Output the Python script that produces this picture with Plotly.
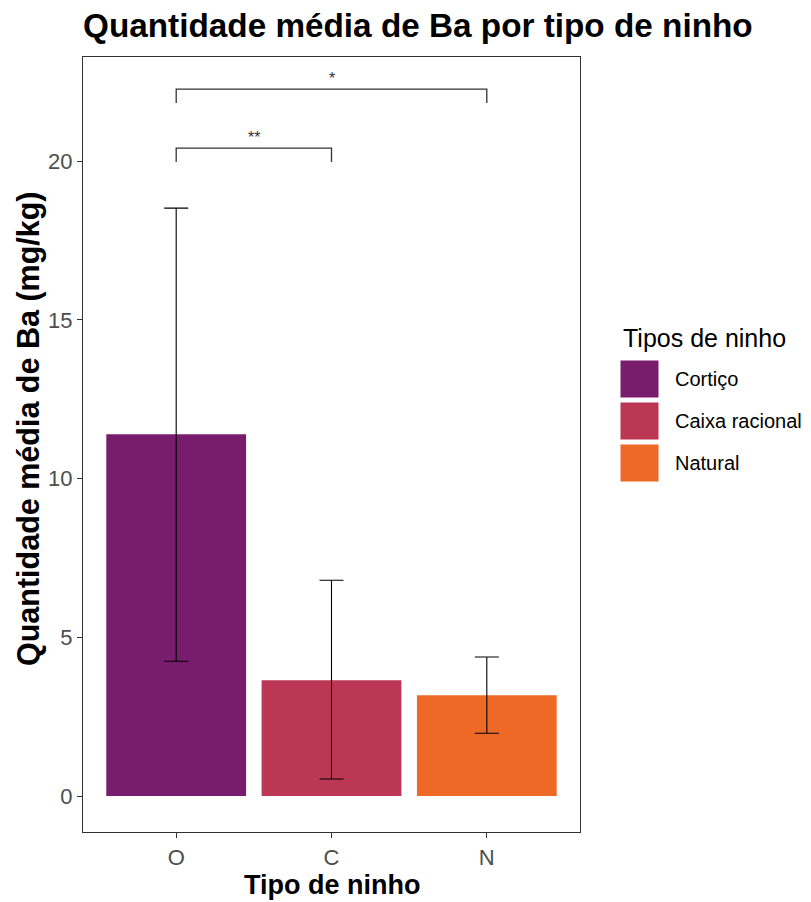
import plotly.graph_objects as go

categories = ["O", "C", "N"]
legend_names = ["Cortiço", "Caixa racional", "Natural"]
means = [11.40, 3.65, 3.18]
err_upper = [18.52, 6.80, 4.38]
err_lower = [4.25, 0.54, 1.98]
colors = ["#781C6D", "#BB3754", "#ED6925"]

# significance brackets: (x1 index, x2 index, y level, label)
brackets = [(0, 1, 20.41, "**"), (0, 2, 22.27, "*")]
bracket_drop = 0.44

W, H = 811, 902
L, T = 83, 57
PW, PH = 497, 775

fig = go.Figure()
for i, cat in enumerate(categories):
    fig.add_trace(go.Bar(
        x=[cat], y=[means[i]], name=legend_names[i],
        marker=dict(color=colors[i], line=dict(width=0)),
        width=0.9, showlegend=False,
        error_y=dict(type="data", symmetric=False,
                     array=[err_upper[i] - means[i]],
                     arrayminus=[means[i] - err_lower[i]],
                     color="black", thickness=1.1, width=12),
    ))

shapes = []
annotations = []
for a, b, yv, lab in brackets:
    shapes.append(dict(type="path", xref="x", yref="y",
                       path=f"M {a},{yv - bracket_drop} L {a},{yv} L {b},{yv} L {b},{yv - bracket_drop}",
                       line=dict(color="#333333", width=1.3)))
    annotations.append(dict(x=(a + b) / 2, y=yv, xref="x", yref="y", text=lab,
                            showarrow=False, yanchor="bottom", yshift=0,
                            font=dict(size=16, color="#333333")))

def px_x(fx):
    return (fx - L) / PW

def px_y(fy):
    return (T + PH - fy) / PH

# axis titles
annotations.append(dict(xref="paper", yref="paper", x=px_x(332), y=px_y(885),
                        xanchor="center", yanchor="middle", showarrow=False,
                        text="<b>Tipo de ninho</b>", font=dict(size=27, color="black")))
annotations.append(dict(xref="paper", yref="paper", x=px_x(28), y=px_y(429),
                        xanchor="center", yanchor="middle", showarrow=False, textangle=-90,
                        text="<b>Quantidade média de Ba (mg/kg)</b>", font=dict(size=30.5, color="black")))

# custom legend (large key boxes as in the reference)
annotations.append(dict(xref="paper", yref="paper", x=px_x(621), y=px_y(338),
                        xanchor="left", yanchor="middle", showarrow=False,
                        text="Tipos de ninho", font=dict(size=25, color="black")))
key_top = 360
key_h = 38
key_step = 42
for i, name in enumerate(legend_names):
    top = key_top + i * key_step
    shapes.append(dict(type="rect", xref="paper", yref="paper",
                       x0=px_x(620), x1=px_x(659),
                       y0=px_y(top + key_h), y1=px_y(top),
                       fillcolor=colors[i], line=dict(color="white", width=1)))
    annotations.append(dict(xref="paper", yref="paper", x=px_x(673),
                            y=px_y(top + key_h / 2), xanchor="left", yanchor="middle",
                            showarrow=False, text=name,
                            font=dict(size=20, color="black")))

fig.update_layout(
    width=W, height=H,
    paper_bgcolor="white", plot_bgcolor="white",
    margin=dict(l=L, r=W - L - PW, t=T, b=H - T - PH, autoexpand=False),
    font=dict(family="Liberation Sans, Arial, sans-serif"),
    title=dict(text="<b>Quantidade média de Ba por tipo de ninho</b>",
               x=L / W, xanchor="left", y=1 - 25 / H, yanchor="middle",
               font=dict(size=33.3, color="black")),
    barmode="overlay",
    showlegend=False,
    hovermode=False,
    shapes=shapes,
    annotations=annotations,
)
fig.update_xaxes(
    type="category", categoryorder="array", categoryarray=categories,
    range=[-0.6, 2.6], automargin=False,
    showline=True, linecolor="#333333", linewidth=1.3, mirror=True,
    ticks="outside", ticklen=5, tickcolor="#333333",
    tickfont=dict(size=22, color="#4D4D4D"),
    showgrid=False, zeroline=False,
)
fig.update_yaxes(
    range=[-1.13, 23.28], automargin=False,
    tickvals=[0, 5, 10, 15, 20],
    showline=True, linecolor="#333333", linewidth=1.3, mirror=True,
    ticks="outside", ticklen=5, tickcolor="#333333",
    tickfont=dict(size=22, color="#4D4D4D"),
    showgrid=False, zeroline=False,
)

fig.write_html("out.html",
               config={"displayModeBar": False},
               post_script="document.body.style.margin='0';document.body.style.overflow='hidden';")
